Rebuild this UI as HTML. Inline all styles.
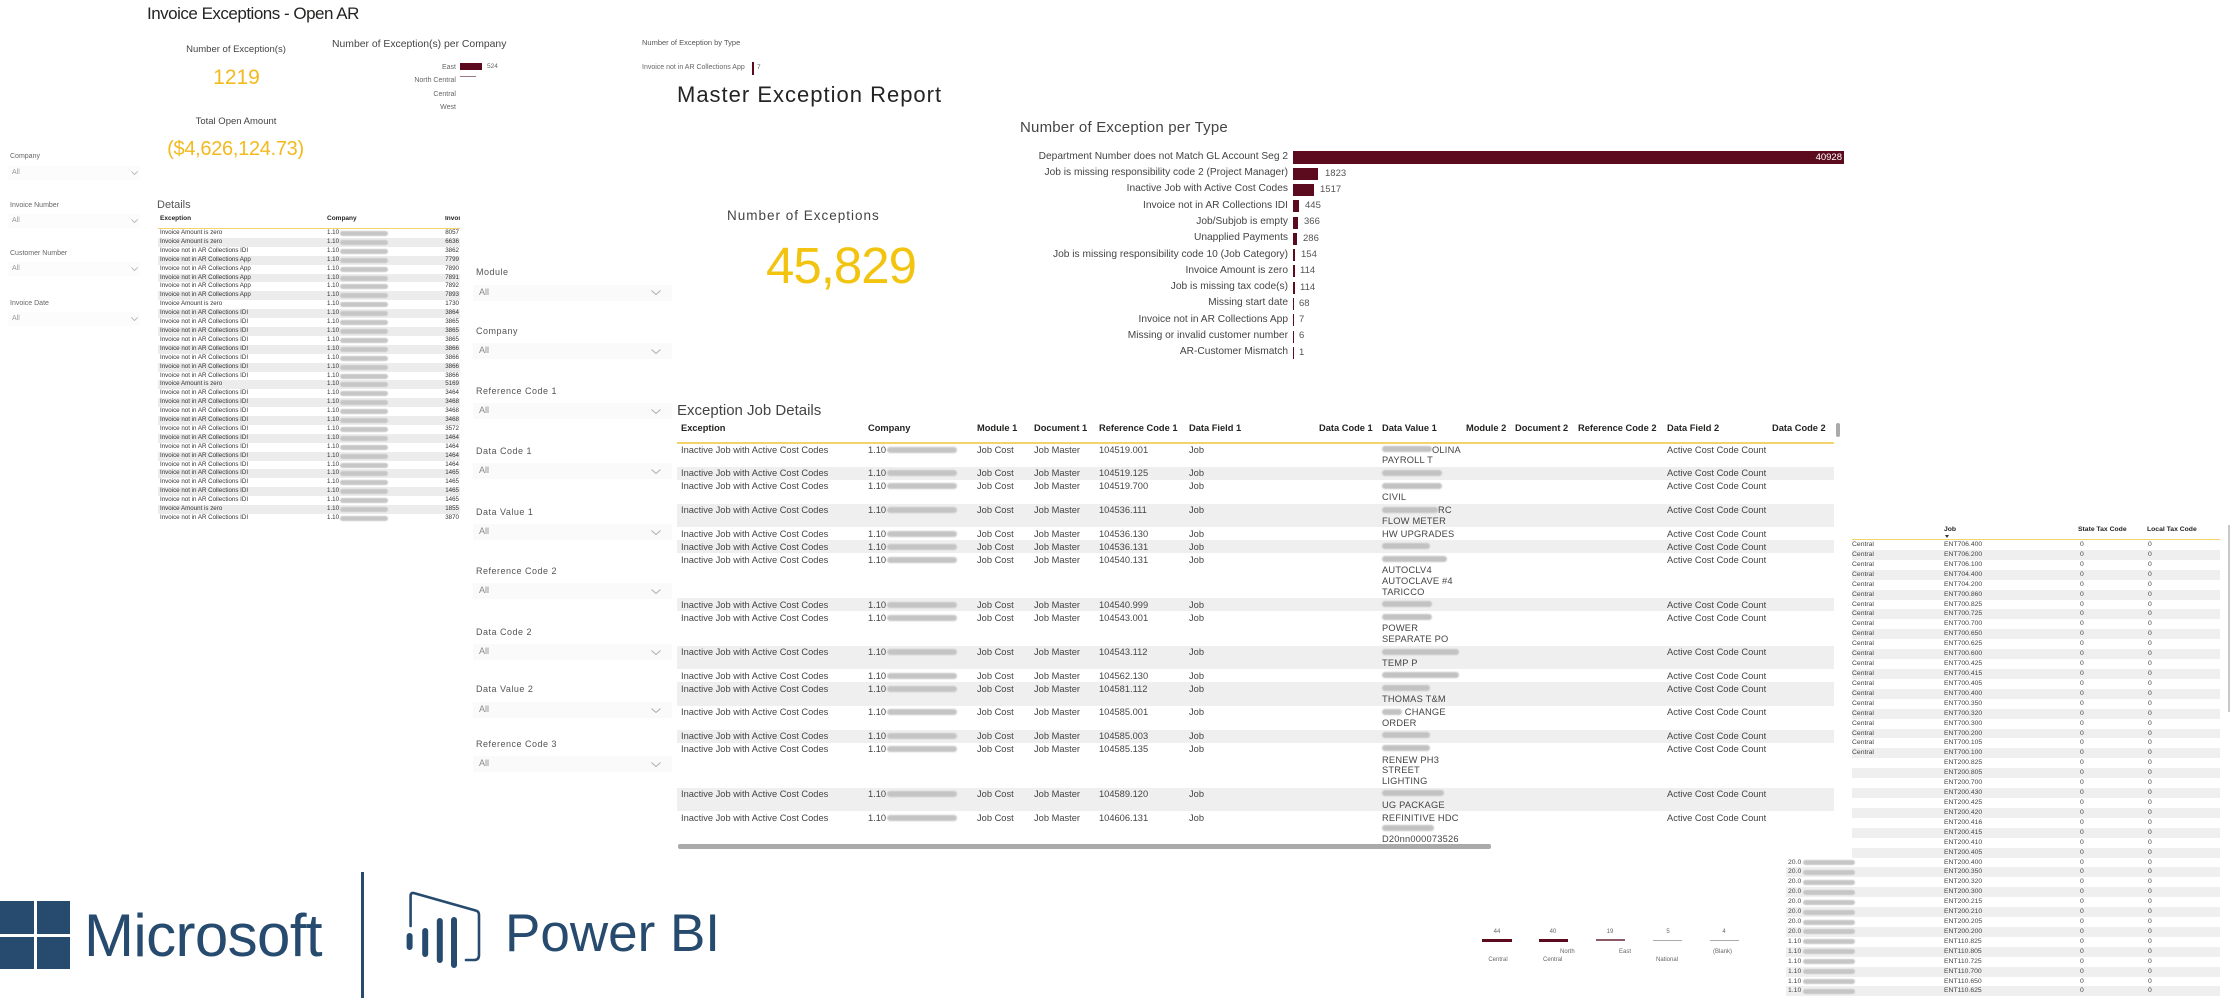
<!DOCTYPE html>
<html><head><meta charset="utf-8">
<style>
body{margin:0;background:#fff}
#r{position:relative;width:2240px;height:1000px;overflow:hidden;background:#fff;font-family:"Liberation Sans",Arial,sans-serif;color:#333}
.t{position:absolute;white-space:nowrap;line-height:1}
.cx{transform:translateX(-50%)}
.box{position:absolute;background:#fafafa}
.cv{position:absolute}
.bar{position:absolute;background:#5c0b1e}
.jr{position:relative;width:1157px;font-size:9.3px;color:#444}
.jr.g{background:#efefef}
.jr span{position:absolute;top:1.17px;line-height:10.67px;white-space:nowrap}
.jr .a{left:4px}.jr .b{left:191px}.jr .m{left:300px}.jr .d{left:357px}.jr .r{left:422px}.jr .f{left:512px}.jr .v{left:705px;letter-spacing:.2px}.jr .f2{left:990px}
.jr .bz{position:absolute;left:210px;width:70px;top:3.3px;height:6px;background:#c4c4c4;border-radius:3px;filter:blur(.7px)}
.ib{display:inline-block;height:6px;background:#c2c2c2;border-radius:3px;filter:blur(.7px);vertical-align:middle;margin-top:-2px}
.dr{position:relative;height:8.92px;font-size:6.2px;line-height:8.92px;color:#333}
.dr.g{background:#ececec}
.dr span{position:absolute;top:0;white-space:nowrap}
.dr .a{left:2px}.dr .b{left:169px}.dr .n{right:1px}
.dr .bz{position:absolute;top:2px;height:5px;left:182px;width:48px;background:#c6c6c6;border-radius:3px;filter:blur(.6px)}
.rr{position:relative;height:9.93px;font-size:6.8px;line-height:9.93px;color:#444}
.rr.g1{background:linear-gradient(to right,transparent 66px,#efefef 66px)}
.rr.g{background:#efefef}
.rr span{position:absolute;white-space:nowrap}
.rr .a{left:66px}.rr .p{left:2px}.rr .j{left:158px}.rr .s{left:294px}.rr .l{left:362px}
.rr .bz{position:absolute;left:17px;width:52px;top:2.5px;height:5px;background:#c6c6c6;border-radius:3px;filter:blur(.6px)}
.hd{position:absolute;white-space:nowrap;line-height:1;font-weight:bold;color:#252423}
.bl{position:absolute;white-space:nowrap;line-height:1;font-size:10.2px;color:#444;right:952px}
.bv{position:absolute;white-space:nowrap;line-height:1;font-size:9.5px;color:#555}
.sl{position:absolute;white-space:nowrap;line-height:1;font-size:9px;letter-spacing:.5px;color:#555}
.sa{position:absolute;white-space:nowrap;line-height:1;font-size:9px;color:#888}
.ll{position:absolute;white-space:nowrap;line-height:1;font-size:7px;color:#666}
.la{position:absolute;white-space:nowrap;line-height:1;font-size:7px;color:#999}
.lg{position:absolute;white-space:nowrap;line-height:1;font-size:6px;color:#666}
</style></head>
<body><div id="r">

<!-- ===== Invoice Exceptions - Open AR ===== -->
<div class="t" style="left:147px;top:4.5px;font-size:17px;letter-spacing:-.5px;color:#252423">Invoice Exceptions - Open AR</div>
<div class="t cx" style="left:236px;top:45px;font-size:9.5px;color:#444">Number of Exception(s)</div>
<div class="t cx" style="left:236.5px;top:67px;font-size:21px;color:#f3ba1e">1219</div>
<div class="t cx" style="left:236px;top:117px;font-size:9.5px;color:#444">Total Open Amount</div>
<div class="t cx" style="left:235.5px;top:139px;font-size:20px;letter-spacing:-.3px;color:#f3ba1e">($4,626,124.73)</div>

<div class="t" style="left:332px;top:39.5px;font-size:10.4px;color:#444">Number of Exception(s) per Company</div>
<div class="ll" style="right:1784px;top:63.5px">East</div>
<div class="ll" style="right:1784px;top:76.5px">North Central</div>
<div class="ll" style="right:1784px;top:90.5px">Central</div>
<div class="ll" style="right:1784px;top:103.5px">West</div>
<div class="bar" style="left:460px;top:63px;width:22px;height:7px"></div>
<div class="t" style="left:487px;top:63.5px;font-size:6.5px;color:#666">524</div>
<div style="position:absolute;left:460px;top:76px;width:16px;height:1px;background:#9a7a80"></div>

<!-- small by type -->
<div class="t" style="left:642px;top:39px;font-size:7.5px;color:#555">Number of Exception by Type</div>
<div class="t" style="left:642px;top:64.3px;font-size:7px;color:#666">Invoice not in AR Collections App</div>
<div class="bar" style="left:752px;top:62px;width:2px;height:13px"></div>
<div class="t" style="left:757px;top:64.5px;font-size:6.5px;color:#666">7</div>

<!-- left slicers -->
<div class="ll" style="left:10px;top:153px">Company</div>
<div class="box" style="left:8px;top:166px;width:132px;height:14px;background:#fcfcfc"></div>
<div class="la" style="left:12px;top:169px">All</div>
<svg class="cv" style="left:131px;top:171px" width="7" height="4"><polyline points="0.4,0.4 3.5,3.5 6.6,0.4" fill="none" stroke="#aaa" stroke-width=".8"/></svg>
<div class="ll" style="left:10px;top:202px">Invoice Number</div>
<div class="box" style="left:8px;top:214px;width:132px;height:14px;background:#fcfcfc"></div>
<div class="la" style="left:12px;top:217px">All</div>
<svg class="cv" style="left:131px;top:219px" width="7" height="4"><polyline points="0.4,0.4 3.5,3.5 6.6,0.4" fill="none" stroke="#aaa" stroke-width=".8"/></svg>
<div class="ll" style="left:10px;top:250px">Customer Number</div>
<div class="box" style="left:8px;top:262px;width:132px;height:14px;background:#fcfcfc"></div>
<div class="la" style="left:12px;top:265px">All</div>
<svg class="cv" style="left:131px;top:267px" width="7" height="4"><polyline points="0.4,0.4 3.5,3.5 6.6,0.4" fill="none" stroke="#aaa" stroke-width=".8"/></svg>
<div class="ll" style="left:10px;top:300px">Invoice Date</div>
<div class="box" style="left:8px;top:312px;width:132px;height:14px;background:#fcfcfc"></div>
<div class="la" style="left:12px;top:315px">All</div>
<svg class="cv" style="left:131px;top:317px" width="7" height="4"><polyline points="0.4,0.4 3.5,3.5 6.6,0.4" fill="none" stroke="#aaa" stroke-width=".8"/></svg>

<!-- Details table -->
<div class="t" style="left:157px;top:200px;font-size:11px;color:#555">Details</div>
<div class="hd" style="left:160px;top:215.5px;font-size:6.5px">Exception</div>
<div class="hd" style="left:327px;top:215.5px;font-size:6.5px">Company</div>
<div style="position:absolute;left:445px;top:215.5px;width:15px;overflow:hidden"><div class="hd" style="position:static;font-size:6.5px">Invoice</div></div>
<div style="position:absolute;left:158px;top:227.5px;width:302px;height:1.5px;background:#f3d46a"></div>
<div style="position:absolute;left:158px;top:229px;width:302px;overflow:hidden">
<div class="dr"><span class="a">Invoice Amount is zero</span><span class="b">1.10</span><i class="bz"></i><span class="n">8057</span></div>
<div class="dr g"><span class="a">Invoice Amount is zero</span><span class="b">1.10</span><i class="bz"></i><span class="n">6636</span></div>
<div class="dr"><span class="a">Invoice not in AR Collections IDI</span><span class="b">1.10</span><i class="bz"></i><span class="n">3862</span></div>
<div class="dr g"><span class="a">Invoice not in AR Collections App</span><span class="b">1.10</span><i class="bz"></i><span class="n">7799</span></div>
<div class="dr"><span class="a">Invoice not in AR Collections App</span><span class="b">1.10</span><i class="bz"></i><span class="n">7890</span></div>
<div class="dr g"><span class="a">Invoice not in AR Collections App</span><span class="b">1.10</span><i class="bz"></i><span class="n">7891</span></div>
<div class="dr"><span class="a">Invoice not in AR Collections App</span><span class="b">1.10</span><i class="bz"></i><span class="n">7892</span></div>
<div class="dr g"><span class="a">Invoice not in AR Collections App</span><span class="b">1.10</span><i class="bz"></i><span class="n">7893</span></div>
<div class="dr"><span class="a">Invoice Amount is zero</span><span class="b">1.10</span><i class="bz"></i><span class="n">1730</span></div>
<div class="dr g"><span class="a">Invoice not in AR Collections IDI</span><span class="b">1.10</span><i class="bz"></i><span class="n">3864</span></div>
<div class="dr"><span class="a">Invoice not in AR Collections IDI</span><span class="b">1.10</span><i class="bz"></i><span class="n">3865</span></div>
<div class="dr g"><span class="a">Invoice not in AR Collections IDI</span><span class="b">1.10</span><i class="bz"></i><span class="n">3865</span></div>
<div class="dr"><span class="a">Invoice not in AR Collections IDI</span><span class="b">1.10</span><i class="bz"></i><span class="n">3865</span></div>
<div class="dr g"><span class="a">Invoice not in AR Collections IDI</span><span class="b">1.10</span><i class="bz"></i><span class="n">3866</span></div>
<div class="dr"><span class="a">Invoice not in AR Collections IDI</span><span class="b">1.10</span><i class="bz"></i><span class="n">3866</span></div>
<div class="dr g"><span class="a">Invoice not in AR Collections IDI</span><span class="b">1.10</span><i class="bz"></i><span class="n">3866</span></div>
<div class="dr"><span class="a">Invoice not in AR Collections IDI</span><span class="b">1.10</span><i class="bz"></i><span class="n">3866</span></div>
<div class="dr g"><span class="a">Invoice Amount is zero</span><span class="b">1.10</span><i class="bz"></i><span class="n">5169</span></div>
<div class="dr"><span class="a">Invoice not in AR Collections IDI</span><span class="b">1.10</span><i class="bz"></i><span class="n">3464</span></div>
<div class="dr g"><span class="a">Invoice not in AR Collections IDI</span><span class="b">1.10</span><i class="bz"></i><span class="n">3468</span></div>
<div class="dr"><span class="a">Invoice not in AR Collections IDI</span><span class="b">1.10</span><i class="bz"></i><span class="n">3468</span></div>
<div class="dr g"><span class="a">Invoice not in AR Collections IDI</span><span class="b">1.10</span><i class="bz"></i><span class="n">3468</span></div>
<div class="dr"><span class="a">Invoice not in AR Collections IDI</span><span class="b">1.10</span><i class="bz"></i><span class="n">3572</span></div>
<div class="dr g"><span class="a">Invoice not in AR Collections IDI</span><span class="b">1.10</span><i class="bz"></i><span class="n">1464</span></div>
<div class="dr"><span class="a">Invoice not in AR Collections IDI</span><span class="b">1.10</span><i class="bz"></i><span class="n">1464</span></div>
<div class="dr g"><span class="a">Invoice not in AR Collections IDI</span><span class="b">1.10</span><i class="bz"></i><span class="n">1464</span></div>
<div class="dr"><span class="a">Invoice not in AR Collections IDI</span><span class="b">1.10</span><i class="bz"></i><span class="n">1464</span></div>
<div class="dr g"><span class="a">Invoice not in AR Collections IDI</span><span class="b">1.10</span><i class="bz"></i><span class="n">1465</span></div>
<div class="dr"><span class="a">Invoice not in AR Collections IDI</span><span class="b">1.10</span><i class="bz"></i><span class="n">1465</span></div>
<div class="dr g"><span class="a">Invoice not in AR Collections IDI</span><span class="b">1.10</span><i class="bz"></i><span class="n">1465</span></div>
<div class="dr"><span class="a">Invoice not in AR Collections IDI</span><span class="b">1.10</span><i class="bz"></i><span class="n">1465</span></div>
<div class="dr g"><span class="a">Invoice Amount is zero</span><span class="b">1.10</span><i class="bz"></i><span class="n">1855</span></div>
<div class="dr"><span class="a">Invoice not in AR Collections IDI</span><span class="b">1.10</span><i class="bz"></i><span class="n">3870</span></div>
</div>

<!-- middle slicers -->
<div class="sl" style="left:476px;top:268px">Module</div>
<div class="box" style="left:473px;top:285px;width:199px;height:16px"></div>
<div class="sa" style="left:479px;top:288px">All</div>
<svg class="cv" style="left:651px;top:290px" width="10" height="5"><polyline points="0.5,0.5 5,4.5 9.5,0.5" fill="none" stroke="#aaa" stroke-width=".9"/></svg>
<div class="sl" style="left:476px;top:327px">Company</div>
<div class="box" style="left:473px;top:343px;width:199px;height:16px"></div>
<div class="sa" style="left:479px;top:346px">All</div>
<svg class="cv" style="left:651px;top:349px" width="10" height="5"><polyline points="0.5,0.5 5,4.5 9.5,0.5" fill="none" stroke="#aaa" stroke-width=".9"/></svg>
<div class="sl" style="left:476px;top:387px">Reference Code 1</div>
<div class="box" style="left:473px;top:403px;width:199px;height:16px"></div>
<div class="sa" style="left:479px;top:406px">All</div>
<svg class="cv" style="left:651px;top:409px" width="10" height="5"><polyline points="0.5,0.5 5,4.5 9.5,0.5" fill="none" stroke="#aaa" stroke-width=".9"/></svg>
<div class="sl" style="left:476px;top:447px">Data Code 1</div>
<div class="box" style="left:473px;top:463px;width:199px;height:16px"></div>
<div class="sa" style="left:479px;top:466px">All</div>
<svg class="cv" style="left:651px;top:469px" width="10" height="5"><polyline points="0.5,0.5 5,4.5 9.5,0.5" fill="none" stroke="#aaa" stroke-width=".9"/></svg>
<div class="sl" style="left:476px;top:508px">Data Value 1</div>
<div class="box" style="left:473px;top:524px;width:199px;height:16px"></div>
<div class="sa" style="left:479px;top:527px">All</div>
<svg class="cv" style="left:651px;top:530px" width="10" height="5"><polyline points="0.5,0.5 5,4.5 9.5,0.5" fill="none" stroke="#aaa" stroke-width=".9"/></svg>
<div class="sl" style="left:476px;top:567px">Reference Code 2</div>
<div class="box" style="left:473px;top:583px;width:199px;height:16px"></div>
<div class="sa" style="left:479px;top:586px">All</div>
<svg class="cv" style="left:651px;top:589px" width="10" height="5"><polyline points="0.5,0.5 5,4.5 9.5,0.5" fill="none" stroke="#aaa" stroke-width=".9"/></svg>
<div class="sl" style="left:476px;top:628px">Data Code 2</div>
<div class="box" style="left:473px;top:644px;width:199px;height:16px"></div>
<div class="sa" style="left:479px;top:647px">All</div>
<svg class="cv" style="left:651px;top:650px" width="10" height="5"><polyline points="0.5,0.5 5,4.5 9.5,0.5" fill="none" stroke="#aaa" stroke-width=".9"/></svg>
<div class="sl" style="left:476px;top:685px">Data Value 2</div>
<div class="box" style="left:473px;top:702px;width:199px;height:16px"></div>
<div class="sa" style="left:479px;top:705px">All</div>
<svg class="cv" style="left:651px;top:708px" width="10" height="5"><polyline points="0.5,0.5 5,4.5 9.5,0.5" fill="none" stroke="#aaa" stroke-width=".9"/></svg>
<div class="sl" style="left:476px;top:740px">Reference Code 3</div>
<div class="box" style="left:473px;top:756px;width:199px;height:16px"></div>
<div class="sa" style="left:479px;top:759px">All</div>
<svg class="cv" style="left:651px;top:762px" width="10" height="5"><polyline points="0.5,0.5 5,4.5 9.5,0.5" fill="none" stroke="#aaa" stroke-width=".9"/></svg>

<!-- ===== Master Exception Report ===== -->
<div class="t" style="left:677px;top:84px;font-size:22px;letter-spacing:1px;color:#252423">Master Exception Report</div>
<div class="t" style="left:727px;top:208.6px;font-size:13.5px;letter-spacing:1px;color:#444">Number of Exceptions</div>
<div class="t" style="left:766px;top:240px;font-size:51px;letter-spacing:-1px;color:#f2c40f">45,829</div>
<div class="t" style="left:1020px;top:120.3px;font-size:15px;letter-spacing:.2px;color:#444">Number of Exception per Type</div>

<!-- bars -->
<div class="bl" style="top:151.9px">Department Number does not Match GL Account Seg 2</div>
<div class="bar" style="left:1293px;top:151px;width:551px;height:13px"></div>
<div class="bv" style="right:398px;top:152.5px;color:#fff">40928</div>

<div class="bl" style="top:168.2px">Job is missing responsibility code 2 (Project Manager)</div>
<div class="bar" style="left:1293px;top:167.8px;width:25px;height:12px"></div>
<div class="bv" style="left:1325px;top:168.6px">1823</div>

<div class="bl" style="top:184.4px">Inactive Job with Active Cost Codes</div>
<div class="bar" style="left:1293px;top:184px;width:21px;height:12px"></div>
<div class="bv" style="left:1320px;top:184.8px">1517</div>

<div class="bl" style="top:200.7px">Invoice not in AR Collections IDI</div>
<div class="bar" style="left:1293px;top:200.3px;width:6px;height:12px"></div>
<div class="bv" style="left:1305px;top:201.1px">445</div>

<div class="bl" style="top:217px">Job/Subjob is empty</div>
<div class="bar" style="left:1293px;top:216.6px;width:5px;height:12px"></div>
<div class="bv" style="left:1304px;top:217.4px">366</div>

<div class="bl" style="top:233.3px">Unapplied Payments</div>
<div class="bar" style="left:1293px;top:232.9px;width:4px;height:12px"></div>
<div class="bv" style="left:1303px;top:233.7px">286</div>

<div class="bl" style="top:249.5px">Job is missing responsibility code 10 (Job Category)</div>
<div class="bar" style="left:1293px;top:249.1px;width:2px;height:12px"></div>
<div class="bv" style="left:1301px;top:249.9px">154</div>

<div class="bl" style="top:265.8px">Invoice Amount is zero</div>
<div class="bar" style="left:1293px;top:265.4px;width:1.5px;height:12px"></div>
<div class="bv" style="left:1300px;top:266.2px">114</div>

<div class="bl" style="top:282.1px">Job is missing tax code(s)</div>
<div class="bar" style="left:1293px;top:281.7px;width:1.5px;height:12px"></div>
<div class="bv" style="left:1300px;top:282.5px">114</div>

<div class="bl" style="top:298.3px">Missing start date</div>
<div class="bar" style="left:1293px;top:297.9px;width:1px;height:12px"></div>
<div class="bv" style="left:1299px;top:298.7px">68</div>

<div class="bl" style="top:314.6px">Invoice not in AR Collections App</div>
<div class="bar" style="left:1293px;top:314.2px;width:1px;height:12px"></div>
<div class="bv" style="left:1299px;top:315px">7</div>

<div class="bl" style="top:330.9px">Missing or invalid customer number</div>
<div class="bar" style="left:1293px;top:330.5px;width:1px;height:12px"></div>
<div class="bv" style="left:1299px;top:331.3px">6</div>

<div class="bl" style="top:347.1px">AR-Customer Mismatch</div>
<div class="bar" style="left:1293px;top:346.7px;width:1px;height:12px"></div>
<div class="bv" style="left:1299px;top:347.5px">1</div>

<!-- ===== Exception Job Details ===== -->
<div class="t" style="left:677px;top:403px;font-size:15px;color:#444">Exception Job Details</div>
<div class="hd" style="left:681px;top:424px;font-size:9.3px">Exception</div>
<div class="hd" style="left:868px;top:424px;font-size:9.3px">Company</div>
<div class="hd" style="left:977px;top:424px;font-size:9.3px">Module 1</div>
<div class="hd" style="left:1034px;top:424px;font-size:9.3px">Document 1</div>
<div class="hd" style="left:1099px;top:424px;font-size:9.3px">Reference Code 1</div>
<div class="hd" style="left:1189px;top:424px;font-size:9.3px">Data Field 1</div>
<div class="hd" style="left:1319px;top:424px;font-size:9.3px">Data Code 1</div>
<div class="hd" style="left:1382px;top:424px;font-size:9.3px">Data Value 1</div>
<div class="hd" style="left:1466px;top:424px;font-size:9.3px">Module 2</div>
<div class="hd" style="left:1515px;top:424px;font-size:9.3px">Document 2</div>
<div class="hd" style="left:1578px;top:424px;font-size:9.3px">Reference Code 2</div>
<div class="hd" style="left:1667px;top:424px;font-size:9.3px">Data Field 2</div>
<div class="hd" style="left:1772px;top:424px;font-size:9.3px">Data Code 2</div>
<div style="position:absolute;left:1836px;top:423px;width:4px;height:14px;background:#aaa;border-radius:2px"></div>
<div style="position:absolute;left:677px;top:442px;width:1157px;height:2px;background:#f3d46a"></div>

<div style="position:absolute;left:677px;top:443.5px;width:1157px;height:400px;overflow:hidden">
<div class="jr" style="height:23.67px"><span class="a">Inactive Job with Active Cost Codes</span><span class="b">1.10</span><i class="bz"></i><span class="m">Job Cost</span><span class="d">Job Master</span><span class="r">104519.001</span><span class="f">Job</span><span class="v"><b class="ib" style="width:50px"></b>OLINA<br>PAYROLL T</span><span class="f2">Active Cost Code Count</span></div>
<div class="jr g" style="height:13px"><span class="a">Inactive Job with Active Cost Codes</span><span class="b">1.10</span><i class="bz"></i><span class="m">Job Cost</span><span class="d">Job Master</span><span class="r">104519.125</span><span class="f">Job</span><span class="v"><b class="ib" style="width:60px"></b></span><span class="f2">Active Cost Code Count</span></div>
<div class="jr" style="height:23.67px"><span class="a">Inactive Job with Active Cost Codes</span><span class="b">1.10</span><i class="bz"></i><span class="m">Job Cost</span><span class="d">Job Master</span><span class="r">104519.700</span><span class="f">Job</span><span class="v"><b class="ib" style="width:60px"></b><br>CIVIL</span><span class="f2">Active Cost Code Count</span></div>
<div class="jr g" style="height:23.67px"><span class="a">Inactive Job with Active Cost Codes</span><span class="b">1.10</span><i class="bz"></i><span class="m">Job Cost</span><span class="d">Job Master</span><span class="r">104536.111</span><span class="f">Job</span><span class="v"><b class="ib" style="width:56px"></b>RC<br>FLOW METER</span><span class="f2">Active Cost Code Count</span></div>
<div class="jr" style="height:13px"><span class="a">Inactive Job with Active Cost Codes</span><span class="b">1.10</span><i class="bz"></i><span class="m">Job Cost</span><span class="d">Job Master</span><span class="r">104536.130</span><span class="f">Job</span><span class="v">HW UPGRADES</span><span class="f2">Active Cost Code Count</span></div>
<div class="jr g" style="height:13px"><span class="a">Inactive Job with Active Cost Codes</span><span class="b">1.10</span><i class="bz"></i><span class="m">Job Cost</span><span class="d">Job Master</span><span class="r">104536.131</span><span class="f">Job</span><span class="v"><b class="ib" style="width:48px"></b></span><span class="f2">Active Cost Code Count</span></div>
<div class="jr" style="height:45px"><span class="a">Inactive Job with Active Cost Codes</span><span class="b">1.10</span><i class="bz"></i><span class="m">Job Cost</span><span class="d">Job Master</span><span class="r">104540.131</span><span class="f">Job</span><span class="v"><b class="ib" style="width:65px"></b><br>AUTOCLV4<br>AUTOCLAVE #4<br>TARICCO</span><span class="f2">Active Cost Code Count</span></div>
<div class="jr g" style="height:13px"><span class="a">Inactive Job with Active Cost Codes</span><span class="b">1.10</span><i class="bz"></i><span class="m">Job Cost</span><span class="d">Job Master</span><span class="r">104540.999</span><span class="f">Job</span><span class="v"><b class="ib" style="width:50px"></b></span><span class="f2">Active Cost Code Count</span></div>
<div class="jr" style="height:34.33px"><span class="a">Inactive Job with Active Cost Codes</span><span class="b">1.10</span><i class="bz"></i><span class="m">Job Cost</span><span class="d">Job Master</span><span class="r">104543.001</span><span class="f">Job</span><span class="v"><b class="ib" style="width:50px"></b><br>POWER<br>SEPARATE PO</span><span class="f2">Active Cost Code Count</span></div>
<div class="jr g" style="height:23.67px"><span class="a">Inactive Job with Active Cost Codes</span><span class="b">1.10</span><i class="bz"></i><span class="m">Job Cost</span><span class="d">Job Master</span><span class="r">104543.112</span><span class="f">Job</span><span class="v"><b class="ib" style="width:77px"></b><br>TEMP P</span><span class="f2">Active Cost Code Count</span></div>
<div class="jr" style="height:13px"><span class="a">Inactive Job with Active Cost Codes</span><span class="b">1.10</span><i class="bz"></i><span class="m">Job Cost</span><span class="d">Job Master</span><span class="r">104562.130</span><span class="f">Job</span><span class="v"><b class="ib" style="width:77px"></b></span><span class="f2">Active Cost Code Count</span></div>
<div class="jr g" style="height:23.67px"><span class="a">Inactive Job with Active Cost Codes</span><span class="b">1.10</span><i class="bz"></i><span class="m">Job Cost</span><span class="d">Job Master</span><span class="r">104581.112</span><span class="f">Job</span><span class="v"><b class="ib" style="width:48px"></b><br>THOMAS T&amp;M</span><span class="f2">Active Cost Code Count</span></div>
<div class="jr" style="height:23.67px"><span class="a">Inactive Job with Active Cost Codes</span><span class="b">1.10</span><i class="bz"></i><span class="m">Job Cost</span><span class="d">Job Master</span><span class="r">104585.001</span><span class="f">Job</span><span class="v"><b class="ib" style="width:20px"></b> CHANGE<br>ORDER</span><span class="f2">Active Cost Code Count</span></div>
<div class="jr g" style="height:13px"><span class="a">Inactive Job with Active Cost Codes</span><span class="b">1.10</span><i class="bz"></i><span class="m">Job Cost</span><span class="d">Job Master</span><span class="r">104585.003</span><span class="f">Job</span><span class="v"><b class="ib" style="width:48px"></b></span><span class="f2">Active Cost Code Count</span></div>
<div class="jr" style="height:45px"><span class="a">Inactive Job with Active Cost Codes</span><span class="b">1.10</span><i class="bz"></i><span class="m">Job Cost</span><span class="d">Job Master</span><span class="r">104585.135</span><span class="f">Job</span><span class="v"><b class="ib" style="width:48px"></b><br>RENEW PH3<br>STREET<br>LIGHTING</span><span class="f2">Active Cost Code Count</span></div>
<div class="jr g" style="height:23.67px"><span class="a">Inactive Job with Active Cost Codes</span><span class="b">1.10</span><i class="bz"></i><span class="m">Job Cost</span><span class="d">Job Master</span><span class="r">104589.120</span><span class="f">Job</span><span class="v"><b class="ib" style="width:62px"></b><br>UG PACKAGE</span><span class="f2">Active Cost Code Count</span></div>
<div class="jr" style="height:34.33px"><span class="a">Inactive Job with Active Cost Codes</span><span class="b">1.10</span><i class="bz"></i><span class="m">Job Cost</span><span class="d">Job Master</span><span class="r">104606.131</span><span class="f">Job</span><span class="v">REFINITIVE HDC<br><b class="ib" style="width:52px"></b><br>D20nn000073526</span><span class="f2">Active Cost Code Count</span></div>
</div>
<div style="position:absolute;left:678px;top:844px;width:813px;height:4.5px;background:#aaa;border-radius:2px"></div>

<!-- ===== right table ===== -->
<div class="hd" style="left:1944px;top:526.5px;font-size:6.8px">Job</div>
<div style="position:absolute;left:1945px;top:534.5px;width:0;height:0;border-left:2.5px solid transparent;border-right:2.5px solid transparent;border-top:3px solid #333"></div>
<div class="hd" style="left:2078px;top:526.5px;font-size:6.8px">State Tax Code</div>
<div class="hd" style="left:2147px;top:526.5px;font-size:6.8px">Local Tax Code</div>
<div style="position:absolute;left:1852px;top:538.5px;width:368px;height:1.5px;background:#f3d46a"></div>
<div style="position:absolute;left:2228px;top:525px;width:2px;height:187px;background:#c8c8c8"></div>
<div style="position:absolute;left:1786px;top:540px;width:434px;height:460px;overflow:hidden">
<div class="rr"><span class="a">Central</span><span class="j">ENT706.400</span><span class="s">0</span><span class="l">0</span></div>
<div class="rr g1"><span class="a">Central</span><span class="j">ENT706.200</span><span class="s">0</span><span class="l">0</span></div>
<div class="rr"><span class="a">Central</span><span class="j">ENT706.100</span><span class="s">0</span><span class="l">0</span></div>
<div class="rr g1"><span class="a">Central</span><span class="j">ENT704.400</span><span class="s">0</span><span class="l">0</span></div>
<div class="rr"><span class="a">Central</span><span class="j">ENT704.200</span><span class="s">0</span><span class="l">0</span></div>
<div class="rr g1"><span class="a">Central</span><span class="j">ENT700.860</span><span class="s">0</span><span class="l">0</span></div>
<div class="rr"><span class="a">Central</span><span class="j">ENT700.825</span><span class="s">0</span><span class="l">0</span></div>
<div class="rr g1"><span class="a">Central</span><span class="j">ENT700.725</span><span class="s">0</span><span class="l">0</span></div>
<div class="rr"><span class="a">Central</span><span class="j">ENT700.700</span><span class="s">0</span><span class="l">0</span></div>
<div class="rr g1"><span class="a">Central</span><span class="j">ENT700.650</span><span class="s">0</span><span class="l">0</span></div>
<div class="rr"><span class="a">Central</span><span class="j">ENT700.625</span><span class="s">0</span><span class="l">0</span></div>
<div class="rr g1"><span class="a">Central</span><span class="j">ENT700.600</span><span class="s">0</span><span class="l">0</span></div>
<div class="rr"><span class="a">Central</span><span class="j">ENT700.425</span><span class="s">0</span><span class="l">0</span></div>
<div class="rr g1"><span class="a">Central</span><span class="j">ENT700.415</span><span class="s">0</span><span class="l">0</span></div>
<div class="rr"><span class="a">Central</span><span class="j">ENT700.405</span><span class="s">0</span><span class="l">0</span></div>
<div class="rr g1"><span class="a">Central</span><span class="j">ENT700.400</span><span class="s">0</span><span class="l">0</span></div>
<div class="rr"><span class="a">Central</span><span class="j">ENT700.350</span><span class="s">0</span><span class="l">0</span></div>
<div class="rr g1"><span class="a">Central</span><span class="j">ENT700.320</span><span class="s">0</span><span class="l">0</span></div>
<div class="rr"><span class="a">Central</span><span class="j">ENT700.300</span><span class="s">0</span><span class="l">0</span></div>
<div class="rr g1"><span class="a">Central</span><span class="j">ENT700.200</span><span class="s">0</span><span class="l">0</span></div>
<div class="rr"><span class="a">Central</span><span class="j">ENT700.105</span><span class="s">0</span><span class="l">0</span></div>
<div class="rr g1"><span class="a">Central</span><span class="j">ENT700.100</span><span class="s">0</span><span class="l">0</span></div>
<div class="rr"><span class="j">ENT200.825</span><span class="s">0</span><span class="l">0</span></div>
<div class="rr g1"><span class="j">ENT200.805</span><span class="s">0</span><span class="l">0</span></div>
<div class="rr"><span class="j">ENT200.700</span><span class="s">0</span><span class="l">0</span></div>
<div class="rr g1"><span class="j">ENT200.430</span><span class="s">0</span><span class="l">0</span></div>
<div class="rr"><span class="j">ENT200.425</span><span class="s">0</span><span class="l">0</span></div>
<div class="rr g1"><span class="j">ENT200.420</span><span class="s">0</span><span class="l">0</span></div>
<div class="rr"><span class="j">ENT200.416</span><span class="s">0</span><span class="l">0</span></div>
<div class="rr g1"><span class="j">ENT200.415</span><span class="s">0</span><span class="l">0</span></div>
<div class="rr"><span class="j">ENT200.410</span><span class="s">0</span><span class="l">0</span></div>
<div class="rr g1"><span class="j">ENT200.405</span><span class="s">0</span><span class="l">0</span></div>
<div class="rr"><span class="p">20.0</span><i class="bz"></i><span class="j">ENT200.400</span><span class="s">0</span><span class="l">0</span></div>
<div class="rr g"><span class="p">20.0</span><i class="bz"></i><span class="j">ENT200.350</span><span class="s">0</span><span class="l">0</span></div>
<div class="rr"><span class="p">20.0</span><i class="bz"></i><span class="j">ENT200.320</span><span class="s">0</span><span class="l">0</span></div>
<div class="rr g"><span class="p">20.0</span><i class="bz"></i><span class="j">ENT200.300</span><span class="s">0</span><span class="l">0</span></div>
<div class="rr"><span class="p">20.0</span><i class="bz"></i><span class="j">ENT200.215</span><span class="s">0</span><span class="l">0</span></div>
<div class="rr g"><span class="p">20.0</span><i class="bz"></i><span class="j">ENT200.210</span><span class="s">0</span><span class="l">0</span></div>
<div class="rr"><span class="p">20.0</span><i class="bz"></i><span class="j">ENT200.205</span><span class="s">0</span><span class="l">0</span></div>
<div class="rr g"><span class="p">20.0</span><i class="bz"></i><span class="j">ENT200.200</span><span class="s">0</span><span class="l">0</span></div>
<div class="rr"><span class="p">1.10</span><i class="bz"></i><span class="j">ENT110.825</span><span class="s">0</span><span class="l">0</span></div>
<div class="rr g"><span class="p">1.10</span><i class="bz"></i><span class="j">ENT110.805</span><span class="s">0</span><span class="l">0</span></div>
<div class="rr"><span class="p">1.10</span><i class="bz"></i><span class="j">ENT110.725</span><span class="s">0</span><span class="l">0</span></div>
<div class="rr g"><span class="p">1.10</span><i class="bz"></i><span class="j">ENT110.700</span><span class="s">0</span><span class="l">0</span></div>
<div class="rr"><span class="p">1.10</span><i class="bz"></i><span class="j">ENT110.650</span><span class="s">0</span><span class="l">0</span></div>
<div class="rr g"><span class="p">1.10</span><i class="bz"></i><span class="j">ENT110.625</span><span class="s">0</span><span class="l">0</span></div>
</div>

<!-- ===== bottom legend ===== -->
<div style="position:absolute;left:1482px;top:938.5px;width:30px;height:3px;background:#5c0b1e"></div>
<div style="position:absolute;left:1539px;top:938.5px;width:29px;height:3px;background:#5c0b1e"></div>
<div style="position:absolute;left:1596px;top:939px;width:29px;height:2px;background:#8c5a66"></div>
<div style="position:absolute;left:1653px;top:940px;width:29px;height:1px;background:#aaa"></div>
<div style="position:absolute;left:1710px;top:940px;width:29px;height:1px;background:#aaa"></div>
<div class="lg cx" style="left:1497px;top:928.7px">44</div>
<div class="lg cx" style="left:1553px;top:928.7px">40</div>
<div class="lg cx" style="left:1610px;top:928.7px">19</div>
<div class="lg cx" style="left:1668px;top:928.7px">5</div>
<div class="lg cx" style="left:1724px;top:928.7px">4</div>
<div class="lg cx" style="left:1498px;top:956.7px">Central</div>
<div class="lg" style="left:1560px;top:948.7px">North</div>
<div class="lg" style="left:1543px;top:956.7px">Central</div>
<div class="lg" style="left:1619px;top:948.7px">East</div>
<div class="lg" style="left:1656px;top:956.7px">National</div>
<div class="lg" style="left:1713px;top:948.7px">(Blank)</div>

<!-- ===== Microsoft | Power BI logo ===== -->
<div style="position:absolute;left:0;top:901px;width:34px;height:33px;background:#264b6e"></div>
<div style="position:absolute;left:37px;top:901px;width:33px;height:33px;background:#264b6e"></div>
<div style="position:absolute;left:0;top:937px;width:34px;height:32px;background:#264b6e"></div>
<div style="position:absolute;left:37px;top:937px;width:33px;height:32px;background:#264b6e"></div>
<div class="t" style="left:84px;top:906px;font-size:60px;letter-spacing:-.6px;color:#264b6e">Microsoft</div>
<div style="position:absolute;left:361px;top:872px;width:2.5px;height:126px;background:#264b6e"></div>
<svg style="position:absolute;left:403px;top:888px" width="82" height="84" viewBox="0 0 82 84">
<path d="M7.6,38 L7.6,8 Q7.6,4 11.5,5.2 L73,22.6 Q76,23.5 76,27 L76,67 Q76,72 71,72 L63,72" fill="none" stroke="#264b6e" stroke-width="2.6" stroke-linecap="round" stroke-linejoin="round"/>
<line x1="6.6" y1="48" x2="6.6" y2="59" stroke="#264b6e" stroke-width="6" stroke-linecap="round"/>
<line x1="22.2" y1="43" x2="22.2" y2="66" stroke="#264b6e" stroke-width="6" stroke-linecap="round"/>
<line x1="36.8" y1="33" x2="36.8" y2="72" stroke="#264b6e" stroke-width="6" stroke-linecap="round"/>
<line x1="51" y1="32" x2="51" y2="77" stroke="#264b6e" stroke-width="6" stroke-linecap="round"/>
</svg>
<div class="t" style="left:505px;top:907px;font-size:53px;color:#264b6e">Power BI</div>

</div></body></html>
